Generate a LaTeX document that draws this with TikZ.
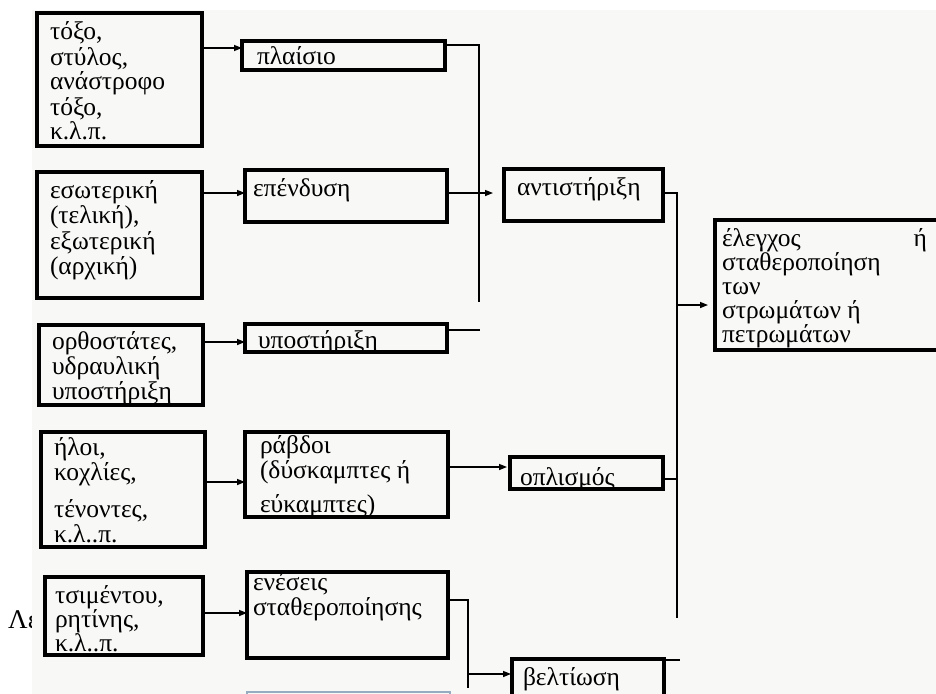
\documentclass[tikz,border=0pt]{standalone}
\usepackage{fontspec}
\setmainfont{Liberation Serif}
\usetikzlibrary{arrows.meta,calc}
\definecolor{paper}{RGB}{248,248,246}
\definecolor{fadededge}{RGB}{150,172,192}
\tikzset{
  box/.style={draw=black, line width=3.3pt, rectangle, inner sep=0pt, outer sep=0pt, anchor=north west},
  lbl/.style={anchor=base west, inner sep=0pt, outer sep=0pt, font=\fontsize{25.5}{25}\selectfont},
  link/.style={line width=1.4pt},
  arr/.style={link, -{Triangle[length=8pt,width=6pt]}},
}
\begin{document}
\begin{tikzpicture}[x=1pt,y=-1pt]
\useasboundingbox (0,0) rectangle (936,693);
% caption fragment partly hidden under the sheet
\node[anchor=base west, inner sep=0pt, font=\fontsize{27}{30}\selectfont] (cap) at (8,628) {Λε};
% the scanned sheet
\fill[paper] (32,10) rectangle (940,700);

% first column: examples
\node[box, minimum width=165pt, minimum height=133pt] (A1) at (37,13) {};
\node[box, minimum width=165pt, minimum height=126pt] (A2) at (37,172) {};
\node[box, minimum width=164pt, minimum height=80pt]  (A3) at (39,325) {};
\node[box, minimum width=164pt, minimum height=115pt] (A4) at (41,432) {};
\node[box, minimum width=158pt, minimum height=78pt]  (A5) at (45,577) {};

\node[lbl] (tA1) at (50,40)  {\parbox[t]{150pt}{τόξο,\\στύλος,\\ανάστροφο\\τόξο,\\κ.λ.π.}};
\node[lbl] (tA2) at (50,198) {\parbox[t]{150pt}{εσωτερική\\(τελική),\\[1pt]εξωτερική\\(αρχική)}};
\node[lbl] (tA3) at (52,349) {\parbox[t]{150pt}{ορθοστάτες,\\υδραυλική\\υποστήριξη}};
\node[lbl] (tA4) at (54,455) {\parbox[t]{150pt}{ήλοι,\\κοχλίες,\\[12pt]τένοντες,\\κ.λ..π.}};
\node[lbl] (tA5) at (55,603) {\parbox[t]{150pt}{\fontsize{25.5}{22.5}\selectfont τσιμέντου,\\ρητίνης,\\κ.λ..π.}};

% second column: means
\node[box, minimum width=203pt, minimum height=29pt] (B1) at (242,41) {};
\node[box, minimum width=202pt, minimum height=52pt] (B2) at (245,170) {};
\node[box, minimum width=202pt, minimum height=28pt] (B3) at (245,324) {};
\node[box, minimum width=203pt, minimum height=85pt] (B4) at (245,432) {};
\node[box, minimum width=201pt, minimum height=86pt] (B5) at (247,572) {};
\node[box, draw=fadededge, line width=1.5pt, minimum width=203pt, minimum height=40pt] (B6) at (247,692) {};

\node[lbl] (tB1) at (257,64)  {πλαίσιο};
\node[lbl] (tB2) at (253,196) {επένδυση};
\node[lbl] (tB3) at (258,348) {υποστήριξη};
\node[lbl] (tB4) at (260,453) {\parbox[t]{185pt}{ράβδοι\\(δύσκαμπτες ή\\[9pt]εύκαμπτες)}};
\node[lbl] (tB5) at (253,590) {\parbox[t]{190pt}{ενέσεις\\σταθεροποίησης}};

% third column: methods
\node[box, minimum width=159pt, minimum height=52pt] (C1) at (504,169) {};
\node[box, minimum width=153pt, minimum height=32pt] (C2) at (510,457) {};
\node[box, minimum width=152pt, minimum height=45pt] (C3) at (512,659) {};

\node[lbl] (tC1) at (517,195) {αντιστήριξη};
\node[lbl] (tC2) at (520,485) {οπλισμός};
\node[lbl] (tC3) at (523,685) {βελτίωση};

% goal
\node[box, minimum width=235pt, minimum height=130pt] (D) at (715,220) {};
\node[lbl] (tD) at (722,246) {\parbox[t]{205pt}{\fontsize{25.5}{24.2}\selectfont έλεγχος\hfill ή\\σταθεροποίηση\\των\\στρωμάτων ή\\πετρωμάτων}};

% examples to means
\draw[arr] ([yshift=-35pt]A1.north east) -- ([yshift=-7pt]B1.north west);
\draw[arr] ([yshift=-21pt]A2.north east) -- ([yshift=-23pt]B2.north west);
\draw[arr] ([yshift=-17pt]A3.north east) -- ([yshift=-18pt]B3.north west);
\draw[arr] ([yshift=-50pt]A4.north east) -- ([yshift=-50pt]B4.north west);
\draw[arr] ([yshift=-36pt]A5.north east) -- ([yshift=-41pt]B5.north west);

% means to methods
\coordinate (J1) at (479,302);
\draw[link] ([yshift=-4pt]B1.north east) -| (J1);
\draw[arr] ([yshift=-23pt]B2.north east) -- ([xshift=-11pt,yshift=-24pt]C1.north west);
\draw[link] ([yshift=-6pt]B3.north east) -- ++(33,0);
\draw[arr] ([yshift=-35pt]B4.north east) -- ([xshift=-3pt,yshift=-10pt]C2.north west);
\coordinate (J3) at (468,688);
\coordinate (J3m) at (468,674);
\draw[link] ([yshift=-28pt]B5.north east) -| (J3);
\draw[arr] (J3m) -- ([xshift=-1pt,yshift=-15pt]C3.north west);

% methods to goal
\coordinate (J2) at (677,618);
\coordinate (J2m) at (677,305);
\draw[link] ([yshift=-24pt]C1.north east) -| (J2);
\draw[arr] (J2m) -- ($(J2m -| D.west)+(-7,0)$);
\draw[link] ([yshift=-22pt]C2.north east) coordinate (c2o) -- (c2o -| J2);
\draw[link] ([yshift=-1pt]C3.north east) -- ++(16,0);
\end{tikzpicture}
\end{document}
